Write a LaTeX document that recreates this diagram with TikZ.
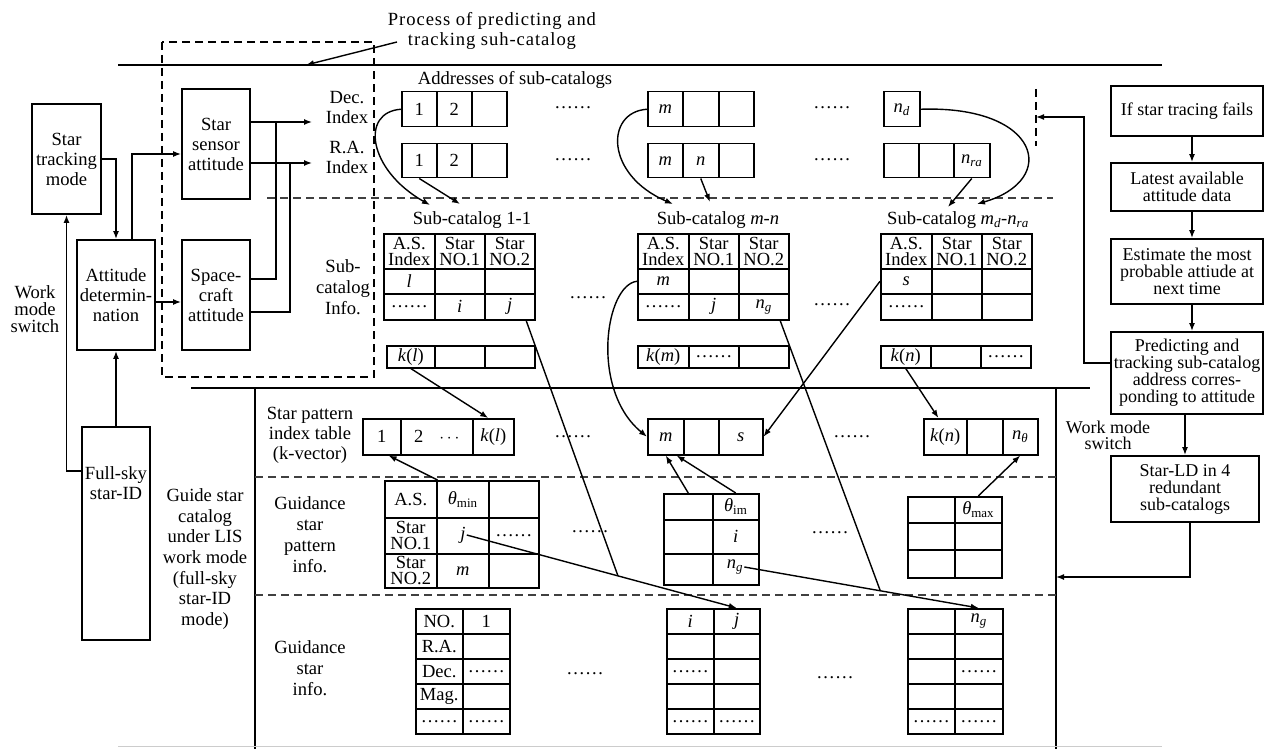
\documentclass[tikz,border=0pt]{standalone}
\usepackage{fontspec}
\setmainfont{Liberation Serif}
\usetikzlibrary{arrows.meta,calc}
\newcommand{\isub}[2]{\textit{#1}\textsubscript{#2}}
\newcommand{\sixdots}{\ldots\ldots}

\begin{document}
\begin{tikzpicture}[x=1pt, y=-1pt]
    \tikzset{box/.style={draw, line width=1.8pt, align=center, inner sep=1pt,
      font=\fontsize{18.6}{20}\selectfont},
      rbox/.style={box, font=\fontsize{18}{17}\selectfont},
      lbl/.style={align=center, inner sep=1pt, font=\fontsize{18.6}{20}\selectfont},
      cell/.style 2 args={draw, line width=1.5pt, anchor=north west, inner sep=0pt,
      align=center, minimum width=#1pt, minimum height=#2pt, font=\fontsize{18.5}{16}\selectfont},
      arr/.style={line width=1.4pt, -{Latex[length=8pt,width=6pt]}},
      ln/.style={line width=1.4pt},
      dsh/.style={line width=1.2pt, dash pattern=on 8pt off 5pt}}

    \fill[white] (0,0) rectangle (1270,749);
    \useasboundingbox (0,0) rectangle (1270,749);

    % frame lines
    \draw[line width=1.6pt] (118,65) -- (1162,65);
    \draw[dsh] (162,42) rectangle (374,377);
    \draw[dsh, black!75] (267,198) -- (1053,198);
    \draw[dsh] (1036,89) -- (1036,146);
    \draw[ln] (191,388) -- (1090,388);
    \draw[ln] (255,388) -- (255,749);
    \draw[ln] (1056,388) -- (1056,749);
    \draw[dsh, black!75] (255,477) -- (1056,477);
    \draw[dsh, black!75] (255,595) -- (1056,595);
    \draw[gray!40, line width=1pt] (118,746) -- (1162,746);

    % process label
    \node[lbl, font=\fontsize{18.6}{20}\selectfont\addfontfeature{LetterSpace=5}] (proc) at (492,31)
      {Process of predicting and\\tracking suh-catalog};
    \coordinate (procfrom) at (397,42);
    \coordinate (procto) at (306,65);
    \draw[arr] (procfrom) -- (procto);

    % left blocks
    \node[box, minimum width=69pt, minimum height=110pt] (track) at (66.5,159) {Star\\tracking\\mode};
    \node[box, minimum width=78pt, minimum height=110pt] (attdet) at (116,295) {Attitude\\determin-\\nation};
    \node[box, minimum width=68pt, minimum height=110pt] (sensor) at (216,144) {Star\\sensor\\attitude};
    \node[box, minimum width=68pt, minimum height=110pt] (craft) at (216,295) {Space-\\craft\\attitude};
    \node[box, minimum width=68pt, minimum height=213pt] (fullsky) at (116,533.5) {};
    \node[lbl] (fullskyt) at (116,483) {Full-sky\\star-ID};
    \node[lbl, font=\fontsize{18.6}{17}\selectfont] (wmsl) at (35,309) {Work\\mode\\switch};

    \coordinate (decin) at (312,122);
    \coordinate (rain) at (312,163);
    \coordinate (tapdec) at (276,122);
    \coordinate (tapra) at (290,163);
    \draw[arr] ([yshift=-45pt]fullsky.north west) -| (track.south);
    \draw[arr] (track.east) -| (attdet.north);
    \draw[arr] ([xshift=16pt]attdet.north) |- ([yshift=-10pt]sensor.west);
    \draw[arr] ([yshift=-7pt]attdet.east) -- ([yshift=-7pt]craft.west);
    \draw[arr] (fullsky.north) -- (attdet.south);
    \draw[arr] (sensor.east |- decin) -- (decin);
    \draw[arr] (sensor.east |- rain) -- (rain);
    \draw[ln] ([yshift=16pt]craft.east) -| (tapdec);
    \draw[ln] ([yshift=-17pt]craft.east) -| (tapra);

    % side labels
    \node[lbl] (decidx) at (347,108) {Dec.\\Index};
    \node[lbl] (raidx) at (347,157) {R.A.\\Index};
    \node[lbl, font=\fontsize{18.6}{21}\selectfont] (scinfo) at (343,287) {Sub-\\catalog\\Info.};
    \node[lbl] (kvec) at (310,435) {Star pattern\\index table\\(k-vector)};
    \node[lbl, font=\fontsize{18.6}{21}\selectfont] (gpat) at (310,535) {Guidance\\star\\pattern\\info.};
    \node[lbl, font=\fontsize{18.6}{21}\selectfont] (ginfo) at (310,668) {Guidance\\star\\info.};
    \node[lbl, font=\fontsize{18.6}{20.7}\selectfont] (gcat) at (205,559)
      {Guide star\\catalog\\under LIS\\work mode\\(full-sky\\star-ID\\mode)};

    % addresses of sub-catalogs
    \node[lbl] (addr) at (515,80) {Addresses of sub-catalogs};
    \node[cell={35}{35}] (dec1) at (401,91) {1};
    \node[cell={35}{35}] (dec2) at (436,91) {2};
    \node[cell={35}{35}] (dec3) at (471,91) {};
    \node[cell={35}{35}] (decm) at (647,91) {\textit{m}};
    \node[cell={36}{35}] (decm2) at (682,91) {};
    \node[cell={35}{35}] (decm3) at (718,91) {};
    \node[cell={36}{35}] (decnd) at (883,91) {\isub{n}{\textit{d}}};
    \node[cell={35}{34}] (ra1) at (401,143) {1};
    \node[cell={35}{34}] (ra2) at (436,143) {2};
    \node[cell={35}{34}] (ra3) at (471,143) {};
    \node[cell={35}{34}] (ram) at (647,143) {\textit{m}};
    \node[cell={36}{34}] (ran) at (682,143) {\textit{n}};
    \node[cell={35}{34}] (ram3) at (718,143) {};
    \node[cell={35}{34}] (rax1) at (883,143) {};
    \node[cell={35}{34}] (rax2) at (918,143) {};
    \node[cell={36}{34}] (ranra) at (953,143) {\isub{n}{\textit{ra}}};
    \node[lbl] (dots1) at (573,108) {\sixdots};
    \node[lbl] (dots2) at (573,160) {\sixdots};
    \node[lbl] (dots3) at (832,108) {\sixdots};
    \node[lbl] (dots4) at (832,160) {\sixdots};

    % sub-catalog 1-1
    \node[lbl] (sc1t) at (472,220) {Sub-catalog 1-1};
    \node[cell={51}{35}] (sc1h1) at (383,233) {A.S.\\Index};
    \node[cell={50}{35}] (sc1h2) at (434,233) {Star\\NO.1};
    \node[cell={50}{35}] (sc1h3) at (484,233) {Star\\NO.2};
    \node[cell={51}{25}] (sc1l) at (383,268) {\textit{l}};
    \node[cell={50}{25}] (sc1l2) at (434,268) {};
    \node[cell={50}{25}] (sc1l3) at (484,268) {};
    \node[cell={51}{26}] (sc1d) at (383,293) {\sixdots};
    \node[cell={50}{26}] (sc1i) at (434,293) {\textit{i}};
    \node[cell={50}{26}] (sc1j) at (484,293) {\textit{j}};
    \node[cell={48}{22}] (k1a) at (386,345) {\textit{k}(\textit{l})};
    \node[cell={50}{22}] (k1b) at (434,345) {};
    \node[cell={50}{22}] (k1c) at (484,345) {};

    % sub-catalog m-n
    \node[lbl] (sc2t) at (718,220) {Sub-catalog \textit{m}-\textit{n}};
    \node[cell={51}{35}] (sc2h1) at (637,233) {A.S.\\Index};
    \node[cell={50}{35}] (sc2h2) at (688,233) {Star\\NO.1};
    \node[cell={50}{35}] (sc2h3) at (738,233) {Star\\NO.2};
    \node[cell={51}{25}] (sc2m) at (637,268) {\textit{m}};
    \node[cell={50}{25}] (sc2m2) at (688,268) {};
    \node[cell={50}{25}] (sc2m3) at (738,268) {};
    \node[cell={51}{26}] (sc2d) at (637,293) {\sixdots};
    \node[cell={50}{26}] (sc2j) at (688,293) {\textit{j}};
    \node[cell={50}{26}] (sc2ng) at (738,293) {\isub{n}{\textit{g}}};
    \node[cell={51}{22}] (k2a) at (637,345) {\textit{k}(\textit{m})};
    \node[cell={50}{22}] (k2b) at (688,345) {\sixdots};
    \node[cell={50}{22}] (k2c) at (738,345) {};

    % sub-catalog md-nra
    \node[lbl] (sc3t) at (958,220) {Sub-catalog \isub{m}{\textit{d}}-\isub{n}{\textit{ra}}};
    \node[cell={51}{35}] (sc3h1) at (880,233) {A.S.\\Index};
    \node[cell={50}{35}] (sc3h2) at (931,233) {Star\\NO.1};
    \node[cell={50}{35}] (sc3h3) at (981,233) {Star\\NO.2};
    \node[cell={51}{25}] (sc3s) at (880,268) {\textit{s}};
    \node[cell={50}{25}] (sc3s2) at (931,268) {};
    \node[cell={50}{25}] (sc3s3) at (981,268) {};
    \node[cell={51}{26}] (sc3d) at (880,293) {\sixdots};
    \node[cell={50}{26}] (sc3d2) at (931,293) {};
    \node[cell={50}{26}] (sc3d3) at (981,293) {};
    \node[cell={50}{22}] (k3a) at (880,345) {\textit{k}(\textit{n})};
    \node[cell={50}{22}] (k3b) at (930,345) {};
    \node[cell={50}{22}] (k3c) at (980,345) {\sixdots};
    \node[lbl] (dots5) at (588,298) {\sixdots};
    \node[lbl] (dots6) at (832,305) {\sixdots};

    % star pattern index table
    \node[cell={38}{36}] (ix1) at (362,418) {1};
    \node[cell={72}{36}] (ix2) at (400,418) {2\hspace{16pt}$\cdots$};
    \node[cell={41}{36}] (ixkl) at (472,418) {\textit{k}(\textit{l})};
    \node[cell={36}{36}] (ixm) at (647,418) {\textit{m}};
    \node[cell={35}{36}] (ixm2) at (683,418) {};
    \node[cell={44}{36}] (ixs) at (718,418) {\textit{s}};
    \node[cell={43}{36}] (ixkn) at (923,418) {\textit{k}(\textit{n})};
    \node[cell={36}{36}] (ixkn2) at (966,418) {};
    \node[cell={35}{36}] (ixnt) at (1002,418) {\isub{n}{\textit{θ}}};
    \node[lbl] (dots7) at (573,437) {\sixdots};
    \node[lbl] (dots8) at (852,437) {\sixdots};

    % guidance star pattern info
    \node[cell={52}{37}] (p1a) at (384,480) {A.S.};
    \node[cell={52}{37}] (p1b) at (436,480) {\isub{θ}{min}};
    \node[cell={50}{37}] (p1c) at (488,480) {};
    \node[cell={52}{36}] (p1d) at (384,517) {Star\\NO.1};
    \node[cell={52}{36}] (p1e) at (436,517) {};
    \node[cell={50}{36}] (p1f) at (488,517) {\sixdots};
    \node[cell={52}{34}] (p1g) at (384,553) {Star\\NO.2};
    \node[cell={52}{34}] (p1h) at (436,553) {\textit{m}};
    \node[cell={50}{34}] (p1i) at (488,553) {};
    \node[lbl, font=\fontsize{18.5}{16}\selectfont] (p1jt) at (463,535) {\textit{j}};
    \node[cell={49}{26}] (p2a) at (663,493) {};
    \node[cell={46}{26}] (p2b) at (712,493) {\isub{θ}{im}};
    \node[cell={49}{34}] (p2c) at (663,519) {};
    \node[cell={46}{34}] (p2d) at (712,519) {\textit{i}};
    \node[cell={49}{31}] (p2e) at (663,553) {};
    \node[cell={46}{31}] (p2f) at (712,553) {};
    \node[lbl, font=\fontsize{18.5}{16}\selectfont] (p2ngt) at (735,567) {\isub{n}{\textit{g}}};
    \node[cell={47}{26}] (p3a) at (907,496) {};
    \node[cell={47}{26}] (p3b) at (954,496) {\isub{θ}{max}};
    \node[cell={47}{27}] (p3c) at (907,522) {};
    \node[cell={47}{27}] (p3d) at (954,522) {};
    \node[cell={47}{28}] (p3e) at (907,549) {};
    \node[cell={47}{28}] (p3f) at (954,549) {};
    \node[lbl] (dots9) at (590,532) {\sixdots};
    \node[lbl] (dots10) at (830,533) {\sixdots};

    % guidance star info
    \node[cell={47}{25}] (s1a1) at (415,608) {NO.};
    \node[cell={47}{25}] (s1b1) at (462,608) {1};
    \node[cell={47}{25}] (s1a2) at (415,633) {R.A.};
    \node[cell={47}{25}] (s1b2) at (462,633) {};
    \node[cell={47}{25}] (s1a3) at (415,658) {Dec.};
    \node[cell={47}{25}] (s1b3) at (462,658) {\sixdots};
    \node[cell={47}{25}] (s1a4) at (415,683) {Mag.};
    \node[cell={47}{25}] (s1b4) at (462,683) {};
    \node[cell={47}{25}] (s1a5) at (415,708) {\sixdots};
    \node[cell={47}{25}] (s1b5) at (462,708) {\sixdots};
    \node[cell={47}{25}] (s2a1) at (666,608) {\textit{i}};
    \node[cell={46}{25}] (s2b1) at (713,608) {\textit{j}};
    \node[cell={47}{25}] (s2a2) at (666,633) {};
    \node[cell={46}{25}] (s2b2) at (713,633) {};
    \node[cell={47}{25}] (s2a3) at (666,658) {\sixdots};
    \node[cell={46}{25}] (s2b3) at (713,658) {};
    \node[cell={47}{25}] (s2a4) at (666,683) {};
    \node[cell={46}{25}] (s2b4) at (713,683) {};
    \node[cell={47}{25}] (s2a5) at (666,708) {\sixdots};
    \node[cell={46}{25}] (s2b5) at (713,708) {\sixdots};
    \node[cell={47}{25}] (s3a1) at (907,608) {};
    \node[cell={48}{25}] (s3b1) at (954,608) {\isub{n}{\textit{g}}};
    \node[cell={47}{25}] (s3a2) at (907,633) {};
    \node[cell={48}{25}] (s3b2) at (954,633) {};
    \node[cell={47}{25}] (s3a3) at (907,658) {};
    \node[cell={48}{25}] (s3b3) at (954,658) {\sixdots};
    \node[cell={47}{25}] (s3a4) at (907,683) {};
    \node[cell={48}{25}] (s3b4) at (954,683) {};
    \node[cell={47}{25}] (s3a5) at (907,708) {\sixdots};
    \node[cell={48}{25}] (s3b5) at (954,708) {\sixdots};
    \node[lbl] (dots11) at (585,674) {\sixdots};
    \node[lbl] (dots12) at (835,678) {\sixdots};

    % right column
    \node[rbox, minimum width=152pt, minimum height=50pt] (fail) at (1187,111) {If star tracing fails};
    \node[rbox, minimum width=152pt, minimum height=48pt] (latest) at (1187,187) {Latest available\\attitude data};
    \node[rbox, minimum width=152pt, minimum height=65pt] (estim) at (1187,271.5)
      {Estimate the most\\probable attiude at\\next time};
    \node[rbox, minimum width=152pt, minimum height=82pt] (predict) at (1187,373)
      {Predicting and\\tracking sub-catalog\\address corres-\\ponding to attitude};
    \node[rbox, minimum width=148pt, minimum height=66pt] (starld) at (1185,489)
      {Star-LD in 4\\redundant\\sub-catalogs};
    \node[lbl, font=\fontsize{18}{16}\selectfont] (wmsr) at (1108,435) {Work mode\\switch};

    \coordinate (fbturn) at (1084,117);
    \coordinate (fbtip) at (1036,117);
    \coordinate (gsin) at (1056,577);
    \draw[arr] ([xshift=5pt]fail.south) -- ([xshift=5pt]latest.north);
    \draw[arr] ([xshift=5pt]latest.south) -- ([xshift=5pt]estim.north);
    \draw[arr] ([xshift=5pt]estim.south) -- ([xshift=5pt]predict.north);
    \draw[arr] (predict.south -| starld.north) -- (starld.north);
    \draw[arr] ([yshift=10pt]predict.west) -| (fbturn) -- (fbtip);
    \draw[arr] ([xshift=5pt]starld.south) |- (gsin);

    % address to sub-catalog pointers
    \coordinate (sc1in1) at (430,205);
    \coordinate (sc1in2) at (460,204);
    \coordinate (sc2in1) at (673,204);
    \coordinate (sc2in2) at (710,202);
    \coordinate (sc3in1) at (977,204);
    \coordinate (sc3in2) at (948,207);
    \draw[arr] (dec1.west) .. controls (360,112) and (368,170) .. (sc1in1);
    \draw[arr] (ra1.south) -- (sc1in2);
    \draw[arr] (decm.west) .. controls (605,112) and (605,175) .. (sc2in1);
    \draw[arr] (ran.south) -- (sc2in2);
    \draw[arr] (decnd.east) .. controls (1040,105) and (1060,180) .. (sc3in1);
    \draw[arr] (ranra.south) -- (sc3in2);

    % sub-catalog to index and star tables
    \draw[arr] (k1a.south) -- (ixkl.105);
    \draw[arr] (sc2m.west) .. controls (605,285) and (590,390) .. (ixm.west);
    \draw[arr] (sc3s.west) -- (ixs.east);
    \draw[arr] (k3a.south) -- (ixkn.110);
    \draw[arr] (p1a.north east) -- (ix1.-70);
    \draw[arr] (p2a.north) -- (ixm.south);
    \draw[arr] (p2b.north) -- (ixm.-60);
    \draw[arr] (p3b.north) -- (ixnt.south);
    \draw[arr] (p1jt.east) -- (s2b1.north);
    \draw[arr] (p2ngt.east) -- (s3b1.north);
    \draw[ln] (sc1j.-40) -- ($(p1jt.east)!0.56!(s2b1.north)$);
    \draw[ln] (sc2ng.-40) -- ($(p2ngt.east)!0.58!(s3b1.north)$);
  \end{tikzpicture}
\end{document}
